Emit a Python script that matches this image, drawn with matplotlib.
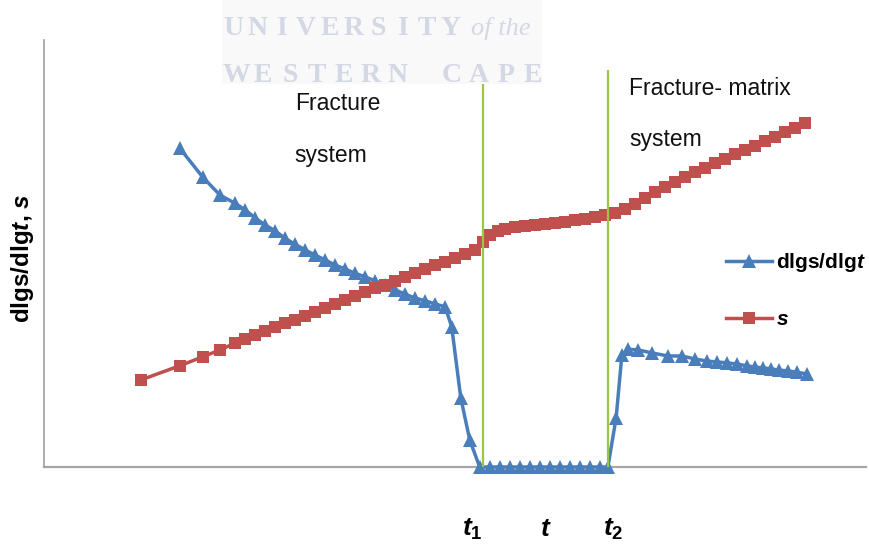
import matplotlib
matplotlib.use("Agg")
import matplotlib.pyplot as plt
from matplotlib.patches import Rectangle

plt.rcParams['font.family'] = ['Liberation Sans', 'DejaVu Sans']
plt.rcParams['mathtext.fontset'] = 'custom'
plt.rcParams['mathtext.it'] = 'Liberation Sans:bold:italic'
plt.rcParams['mathtext.rm'] = 'Liberation Sans:bold'
plt.rcParams['mathtext.bf'] = 'Liberation Sans:bold'

# ---- data (log-time position, arbitrary units 0-100) ----
x_dlg = [16.5, 19.3, 21.4, 23.2, 24.5, 25.7, 26.9, 28.1, 29.3, 30.5, 31.8, 33.0, 34.2,
         35.4, 36.6, 37.8, 39.1, 40.3, 41.5, 42.7, 43.9, 45.1, 46.4, 47.6, 48.8,
         49.6, 50.7, 51.8,
         53.0, 54.3, 55.5, 56.7, 57.9, 59.1, 60.3, 61.6, 62.8, 64.0, 65.2, 66.4, 67.6, 68.6,
         69.6, 70.3, 71.0, 72.3, 74.0, 75.9, 77.6, 79.2, 80.7, 81.9, 83.1, 84.3, 85.5,
         86.5, 87.5, 88.4, 89.4, 90.5, 91.6, 92.8]
dlg = [74.7, 67.9, 63.7, 61.8, 60.2, 58.3, 56.7, 55.3, 53.6, 52.2, 50.8, 49.6, 48.5,
       47.3, 46.4, 45.4, 44.5, 43.6, 42.6, 41.5, 40.5, 39.6, 38.9, 38.2, 37.5,
       32.8, 16.2, 6.3,
       0, 0, 0, 0, 0, 0, 0, 0, 0, 0, 0, 0, 0, 0,
       11.5, 26.2, 27.6, 27.4, 26.7, 26.0, 26.0, 25.3, 24.8, 24.6, 24.4, 24.1, 23.7,
       23.4, 23.2, 23.0, 22.7, 22.5, 22.2, 21.8]

x_s = [11.8, 16.5, 19.3, 21.4, 23.2,
       24.5, 25.7, 26.9, 28.1, 29.3, 30.5, 31.8, 33.0, 34.2, 35.4, 36.6, 37.8, 39.1,
       40.3, 41.5, 42.7, 43.9, 45.1, 46.4, 47.6, 48.8, 50.0, 51.2, 52.4,
       53.4, 54.3, 55.2, 56.1,
       57.3, 58.5, 59.7, 60.9, 62.2, 63.4, 64.6, 65.8, 67.0, 68.2, 69.5, 70.7, 71.9,
       73.1, 74.3, 75.5, 76.8, 78.0, 79.2, 80.4, 81.6, 82.8, 84.1, 85.3, 86.5, 87.7,
       88.9, 90.1, 91.4, 92.6]
s = [20.4, 23.7, 25.8, 27.4, 29.0,
     30.0, 30.9, 31.9, 32.8, 33.7, 34.4, 35.4, 36.3, 37.2, 38.2, 39.1, 40.0, 41.0,
     41.9, 42.6, 43.6, 44.5, 45.4, 46.4, 47.3, 48.0, 48.9, 49.9, 50.8,
     52.7, 54.3, 55.3, 55.7,
     56.2, 56.4, 56.7, 56.9, 57.1, 57.4, 57.8, 58.1, 58.5, 59.0, 59.5, 60.4, 61.6,
     63.0, 64.4, 65.6, 66.7, 67.9, 69.1, 70.0, 71.2, 72.1, 73.3, 74.2, 75.2, 76.3,
     77.3, 78.5, 79.4, 80.6]

t_marks = [53.4, 68.6]
t_marks_top = [94.6, 93.0]
t_labels = [r'$t_{\mathit{1}}$', r'$t$', r'$t_{\mathit{2}}$']
t_label_x = [50.9, 60.3, 68.0]
series_labels = [r'dlgs/dlg$t$', r'$s$']
ylabel = r'dlgs/dlg$t$, $s$'
region_labels = [('Fracture', 30.5, 83.6), ('system', 30.5, 71.4),
                 ('Fracture- matrix', 71.2, 87.1), ('system', 71.2, 75.2)]

BLUE = '#4A7EBB'
RED = '#C0504D'
GREEN = '#9BC44A'

fig = plt.figure(figsize=(8.69, 5.46), dpi=100)
W, H = 869, 546
ax = fig.add_axes([44 / W, (H - 467) / H, (866 - 44) / W, (467 - 40) / H])
ax.set_xlim(0, 100)
ax.set_ylim(0, 100)

# watermark
fig.patches.append(Rectangle((222 / W, 1 - 84 / H), (542 - 222) / W, 84 / H,
                             transform=fig.transFigure, facecolor='#F9F9FA',
                             edgecolor='none', zorder=0))
wm_col = '#D4D7E4'
line1 = 'UNIVERSITY'
for i, ch in enumerate(line1):
    fig.text((233 + i * 24.2) / W, 1 - 35 / H, ch, family='Liberation Serif',
             weight='bold', fontsize=20, color=wm_col, ha='center', va='baseline')
fig.text(471 / W, 1 - 35 / H, 'of the', family='Liberation Serif', style='italic',
         fontsize=19, color=wm_col, ha='left', va='baseline')
line2 = 'WESTERN CAPE'
for i, ch in enumerate(line2):
    fig.text((236 + i * 27.0) / W, 1 - 82 / H, ch, family='Liberation Serif',
             weight='bold', fontsize=20, color=wm_col, ha='center', va='baseline')

for side in ['top', 'right']:
    ax.spines[side].set_visible(False)
ax.spines['left'].set_color('#A0A0A0')
ax.spines['left'].set_linewidth(1.2)
ax.spines['bottom'].set_color('#A6A6A6')
ax.spines['bottom'].set_linewidth(1.6)
ax.set_xticks([])
ax.set_yticks([])
ax.patch.set_alpha(0)

l1, = ax.plot(x_dlg, dlg, color=BLUE, lw=2.5, marker='^', ms=9.5,
              markeredgewidth=0, clip_on=False, zorder=3)
l2, = ax.plot(x_s, s, color=RED, lw=2.5, marker='s', ms=8.5,
              markeredgewidth=0, clip_on=False, zorder=4)

ax.vlines(t_marks, 0, t_marks_top, colors=GREEN, lw=1.6, zorder=5)

for txt, xx, yy in region_labels:
    ax.text(xx, yy, txt, fontsize=16.5, ha='left', va='baseline', color='#111111')

for lab, xx in zip(t_labels, t_label_x):
    ax.text(xx, -16.2, lab, fontsize=19, ha='left', va='baseline', clip_on=False)

fig.text(22 / W, 1 - 258 / H, ylabel, rotation=90, fontsize=17.5, weight='bold',
         ha='center', va='center')

leg = ax.legend([l1, l2], series_labels, loc='upper left',
                bbox_to_anchor=(726 / W, 1 - 251 / H), bbox_transform=fig.transFigure,
                frameon=False, numpoints=1, handlelength=2.2, handletextpad=0.2,
                labelspacing=1.75, borderpad=0, borderaxespad=0,
                prop={'size': 15, 'weight': 'bold'})

fig.savefig('out.png', dpi=100)
